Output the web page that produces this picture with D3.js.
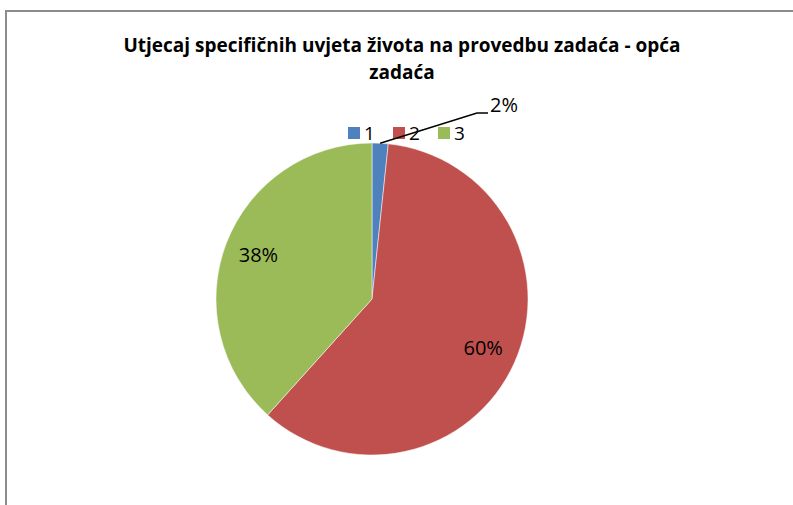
<!DOCTYPE html>
<html>
<head>
<meta charset="utf-8">
<script src="https://d3js.org/d3.v7.min.js"></script>
<style>
  body { margin: 0; background: #fff; }
  svg { display: block; }
</style>
</head>
<body>
<svg id="chart" width="793" height="505"></svg>
<script>
const width = 793;
const height = 505;

var titleLines = ["Utjecaj specifičnih uvjeta života na provedbu zadaća - opća", "zadaća"];
var categories = ["1", "2", "3"];
var values = [1, 36, 23];
var labels = ["2%", "60%", "38%"];
var colors = ["#4F81BD", "#C0504D", "#9BBB59"];

var svg = d3.select("#chart");

// chart border (only top and left are visible in the picture)
svg.append("path")
    .attr("d", "M6,505 L6,11 L793,11")
    .attr("fill", "none")
    .attr("stroke", "#8c8c8c")
    .attr("stroke-width", 2);

// title
var title = svg.append("text")
    .attr("text-anchor", "middle")
    .attr("font-family", "'Open Sans', sans-serif")
    .attr("font-weight", "bold")
    .attr("font-size", 19)
    .attr("fill", "#000");
title.selectAll("tspan")
    .data(titleLines)
    .enter()
    .append("tspan")
    .attr("x", 402)
    .attr("y", (d, i) => 52 + i * 27)
    .text(d => d);

// legend
var color = d3.scaleOrdinal().domain(categories).range(colors);
var legendX = d3.scalePoint().domain(categories).range([348, 438]);

var legend = svg.append("g").selectAll("g")
    .data(categories)
    .enter()
    .append("g")
    .attr("transform", d => "translate(" + legendX(d) + ",127)");
legend.append("rect")
    .attr("width", 12)
    .attr("height", 12)
    .attr("fill", d => color(d));
legend.append("text")
    .attr("x", 16)
    .attr("y", 13)
    .attr("font-family", "'Open Sans', sans-serif")
    .attr("font-size", 19)
    .text(d => d);

// pie
var cx = 372, cy = 299, r = 156;
var pie = d3.pie().sort(null).value(d => d);
var arc = d3.arc().innerRadius(0).outerRadius(r);
var arcs = pie(values);

var g = svg.append("g").attr("transform", "translate(" + cx + "," + cy + ")");
g.selectAll("path")
    .data(arcs)
    .enter()
    .append("path")
    .attr("d", arc)
    .attr("fill", (d, i) => colors[i])
    .attr("stroke", "#fff")
    .attr("stroke-width", 0.5);

// labels inside the bigger slices
var labelArc = d3.arc().innerRadius(r * 0.78).outerRadius(r * 0.78);
g.selectAll(".lbl")
    .data(arcs.slice(1))
    .enter()
    .append("text")
    .attr("class", "lbl")
    .attr("transform", d => "translate(" + labelArc.centroid(d) + ")")
    .attr("text-anchor", "middle")
    .attr("dy", "0.35em")
    .attr("font-family", "'Open Sans', sans-serif")
    .attr("font-size", 20)
    .text((d, i) => labels[i + 1]);

// outside label with leader line for the small slice
var small = arcs[0];
var mid = (small.startAngle + small.endAngle) / 2;
var edge = [Math.sin(mid) * r, -Math.cos(mid) * r];
g.append("polyline")
    .attr("points", [edge, [105, -186], [116, -186]].map(p => p.join(",")).join(" "))
    .attr("fill", "none")
    .attr("stroke", "#000")
    .attr("stroke-width", 1.5);
g.append("text")
    .attr("x", 118)
    .attr("y", -187)
    .attr("font-family", "'Open Sans', sans-serif")
    .attr("font-size", 20)
    .text(labels[0]);
</script>
</body>
</html>
